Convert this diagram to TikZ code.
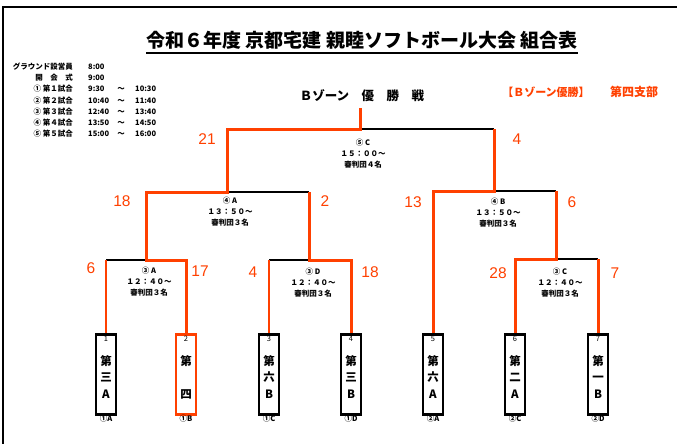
\documentclass[tikz,border=0pt]{standalone}
\usepackage{fontspec}
\setmainfont{Noto Sans CJK JP}
\newfontfamily\scorefont{Liberation Sans}
\usetikzlibrary{positioning}
\definecolor{winred}{HTML}{FF4000}
\tikzset{
  win/.style={draw=winred, line width=3pt},
  lose/.style={draw=black, line width=1.4pt},
  thinred/.style={draw=winred, line width=1.2pt},
  teambox/.style={draw, line width=2.6pt, minimum width=20pt, minimum height=80pt, inner sep=0pt, anchor=north},
  teamname/.style={align=center, inner sep=0pt, font=\bfseries\fontsize{11.5}{16.5}\selectfont},
  teamno/.style={inner sep=0pt, font=\fontsize{7.5}{7.5}\selectfont},
  score/.style={text=winred, inner sep=0pt, font=\scorefont\fontsize{15.5}{15.5}\selectfont},
  info/.style={align=center, inner sep=0pt, font=\bfseries\fontsize{7.5}{11}\selectfont},
  sched/.style={inner sep=0pt, font=\bfseries\fontsize{7.5}{7.5}\selectfont},
}

\begin{document}
\begin{tikzpicture}[x=1pt,y=-1pt]
  \useasboundingbox (0,0) rectangle (677,444);
  % frame
  \draw[line width=2pt] (690,7) -- (3,7) -- (3,450);

  % headings
  \node[inner sep=0pt, anchor=base, font=\bfseries\fontsize{19}{19}\selectfont] (title) at (362,48) {令和６年度 京都宅建 親睦ソフトボール大会 組合表};
  \draw[line width=1.6pt] ([yshift=-5pt]title.base west) -- ([yshift=-5pt]title.base east);
  \node[inner sep=0pt, font=\bfseries\fontsize{12.5}{12.5}\selectfont] (zone) at (362,96) {Ｂゾーン　優　勝　戦};
  \node[inner sep=0pt, text=winred, font=\bfseries\fontsize{11}{11}\selectfont] (champ) at (546,92) {【Ｂゾーン優勝】};
  \node[inner sep=0pt, text=winred, font=\bfseries\fontsize{12}{12}\selectfont] (branch) at (634,92) {第四支部};

  % schedule
  \node[sched, anchor=east] (r0) at (73,67) {グラウンド設営員};
  \node[sched, anchor=east] (r1) at (73,78) {開　会　式};
  \node[sched, anchor=east] (r2) at (73,89) {① 第１試合};
  \node[sched, anchor=east] (r3) at (73,101) {② 第２試合};
  \node[sched, anchor=east] (r4) at (73,112) {③ 第３試合};
  \node[sched, anchor=east] (r5) at (73,123) {④ 第４試合};
  \node[sched, anchor=east] (r6) at (73,134) {⑤ 第５試合};
  \node[sched, anchor=west] (b0) at (88,67) {8:00};
  \node[sched, anchor=west] (b1) at (88,78) {9:00};
  \node[sched, anchor=west] (b2) at (88,89) {9:30};
  \node[sched, anchor=west] (b3) at (88,101) {10:40};
  \node[sched, anchor=west] (b4) at (88,112) {12:40};
  \node[sched, anchor=west] (b5) at (88,123) {13:50};
  \node[sched, anchor=west] (b6) at (88,134) {15:00};
  \node[sched] (w2) at (121,89) {～};
  \node[sched] (w3) at (121,101) {～};
  \node[sched] (w4) at (121,112) {～};
  \node[sched] (w5) at (121,123) {～};
  \node[sched] (w6) at (121,134) {～};
  \node[sched, anchor=west] (e2) at (135,89) {10:30};
  \node[sched, anchor=west] (e3) at (135,101) {11:40};
  \node[sched, anchor=west] (e4) at (135,112) {13:40};
  \node[sched, anchor=west] (e5) at (135,123) {14:50};
  \node[sched, anchor=west] (e6) at (135,134) {16:00};

  % teams
  \node[teambox] (t1) at (106,333) {};
  \node[teambox, draw=winred] (t2) at (186,333) {};
  \node[teambox] (t3) at (269,333) {};
  \node[teambox] (t4) at (351,333) {};
  \node[teambox] (t5) at (433,333) {};
  \node[teambox] (t6) at (515,333) {};
  \node[teambox] (t7) at (598,333) {};
  \node[teamno] (n1) at (106,339) {1};
  \node[teamno] (n2) at (186,339) {2};
  \node[teamno] (n3) at (269,339) {3};
  \node[teamno] (n4) at (351,339) {4};
  \node[teamno] (n5) at (433,339) {5};
  \node[teamno] (n6) at (515,339) {6};
  \node[teamno] (n7) at (598,339) {7};
  \node[teamname] (c1) at (106,377) {第\\三\\A};
  \node[teamname] (c2) at (186,377) {第\\[16.5pt]四};
  \node[teamname] (c3) at (269,377) {第\\六\\B};
  \node[teamname] (c4) at (351,377) {第\\三\\B};
  \node[teamname] (c5) at (433,377) {第\\六\\A};
  \node[teamname] (c6) at (515,377) {第\\二\\A};
  \node[teamname] (c7) at (598,377) {第\\一\\B};
  \node[sched] (u1) at (106,419) {①A};
  \node[sched] (u2) at (186,419) {①B};
  \node[sched] (u3) at (269,419) {①C};
  \node[sched] (u4) at (351,419) {①D};
  \node[sched] (u5) at (433,419) {②A};
  \node[sched] (u6) at (515,419) {②C};
  \node[sched] (u7) at (598,419) {②D};

  % bracket points
  \coordinate (a3l) at (106,260);
  \coordinate (a3m) at (146,260);
  \coordinate (a3r) at (186,260);
  \coordinate (d3l) at (269,260);
  \coordinate (d3m) at (309,260);
  \coordinate (d3r) at (351,260);
  \coordinate (c3l) at (515,259);
  \coordinate (c3m) at (556,259);
  \coordinate (c3r) at (598,259);
  \coordinate (a4l) at (146,192);
  \coordinate (a4m) at (227,192);
  \coordinate (a4r) at (309,192);
  \coordinate (b4l) at (433,191);
  \coordinate (b4m) at (494,191);
  \coordinate (b4r) at (556,191);
  \coordinate (fl) at (227,129);
  \coordinate (fm) at (360,129);
  \coordinate (fr) at (494,129);
  \coordinate (top) at (360,108);

  \draw[lose] (a3l) -- (a3m);
  \draw[lose] (d3l) -- (d3m);
  \draw[lose] (c3m) -- (c3r);
  \draw[lose] (a4m) -- (a4r);
  \draw[lose] (b4m) -- (b4r);
  \draw[lose] (fm) -- (fr);
  \draw[thinred] (t1.north) -- (a3l);
  \draw[thinred] (t3.north) -- (d3l);
  \draw[win] (t2.north) -- (a3r) -- (a3m) -- (a4l) -- (a4m) -- (fl) -- (fm) -- (top);
  \draw[win] (t4.north) -- (d3r) -- (d3m) -- (a4r);
  \draw[win] (t5.north) -- (b4l) -- (b4m) -- (fr);
  \draw[win] (t6.north) -- (c3l) -- (c3m) -- (b4r);
  \draw[win] (t7.north) -- (c3r);

  % match info
  \node[info] (m5c) at (363,154) {⑤ C\\１５：００～\\審判団４名};
  \node[info] (m4a) at (230,212) {④ A\\１３：５０～\\審判団３名};
  \node[info] (m4b) at (498,213) {④ B\\１３：５０～\\審判団３名};
  \node[info] (m3a) at (149,282) {③ A\\１２：４０～\\審判団３名};
  \node[info] (m3d) at (313,283) {③ D\\１２：４０～\\審判団３名};
  \node[info] (m3c) at (560,283) {③ C\\１２：４０～\\審判団３名};

  % scores
  \node[score] (s21) at (207,139) {21};
  \node[score] (s4f) at (517,139) {4};
  \node[score] (s18a) at (122,201) {18};
  \node[score] (s2) at (325,201) {2};
  \node[score] (s13) at (413,202) {13};
  \node[score] (s6b) at (572,202) {6};
  \node[score] (s6) at (91,268) {6};
  \node[score] (s17) at (200,271) {17};
  \node[score] (s4) at (253,272) {4};
  \node[score] (s18) at (370,272) {18};
  \node[score] (s28) at (498,273) {28};
  \node[score] (s7) at (615,273) {7};
\end{tikzpicture}
\end{document}
